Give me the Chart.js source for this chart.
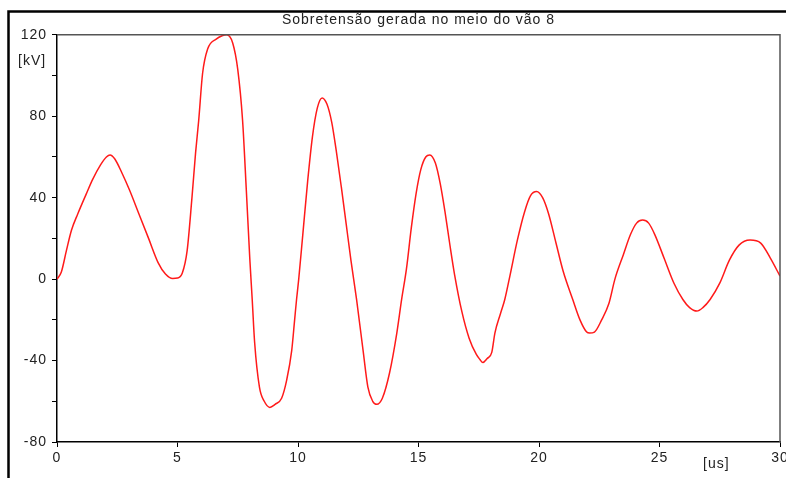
<!DOCTYPE html>
<html>
<head>
<meta charset="utf-8">
<script src="https://cdn.jsdelivr.net/npm/chart.js@4.4.1/dist/chart.umd.min.js"></script>
<style>
  html, body { margin: 0; padding: 0; background: #fff; }
  #wrap { width: 786px; height: 478px; }
</style>
</head>
<body>
<div id="wrap"><canvas id="surgeChart" width="786" height="478"></canvas></div>
<script>
// Time axis [us] and overvoltage [kV]
const timeUs = [
  0, 0.18, 0.39, 0.6, 0.86, 1.22, 1.48, 1.8, 2.05, 2.2, 2.4, 2.7, 3.0, 3.4, 3.8, 4.2, 4.5, 4.8, 5.0,
  5.2, 5.4, 5.6, 5.75, 5.88, 6.04, 6.25, 6.62, 6.85, 7.04, 7.29, 7.5, 7.7, 7.85, 8.0,
  8.1, 8.2, 8.4, 8.6, 8.83, 9.05, 9.32, 9.53, 9.74, 9.86, 9.94, 10.03,
  10.2, 10.4, 10.6, 10.8, 11.0, 11.2, 11.4, 11.6, 11.8, 12.0, 12.2, 12.43,
  12.7, 12.9, 13.1, 13.27, 13.5, 13.8, 14.1, 14.3,
  14.5, 14.7, 14.9, 15.1, 15.3, 15.47, 15.7, 15.9, 16.1, 16.3, 16.5,
  16.8, 17.1, 17.4, 17.55, 17.67, 17.85, 18.04, 18.17, 18.4, 18.58,
  18.8, 19.1, 19.4, 19.65, 19.9, 20.15, 20.4, 20.7, 21.0,
  21.4, 21.7, 21.98, 22.1, 22.3, 22.6, 22.9, 23.15,
  23.5, 23.8, 24.05, 24.3, 24.55, 24.8, 25.2, 25.6,
  25.97, 26.25, 26.55, 26.8, 27.1, 27.5,
  27.9, 28.3, 28.76, 29.2, 29.6, 30
];
const voltageKv = [
  0, 3.5, 14, 24, 32, 42, 49, 56, 60, 61, 59, 52, 44, 32, 20, 8, 2.5, 0.3, 0.5,
  3, 14, 40, 62, 78, 101, 113, 118, 119.5, 120, 116, 103, 78, 45, 10,
  -10, -31, -53, -60, -63, -61.5, -58.5, -49.6, -35, -20, -10, 0,
  22, 48, 70, 84, 89, 86, 77, 62, 45, 27, 9, -10,
  -35, -53, -60, -61.5, -58.5, -46, -26.5, -10,
  5, 25, 42, 54, 60, 61, 57, 47, 33, 17, 2,
  -16, -29, -37, -39.5, -41, -39, -36, -26.5, -17, -10,
  2, 19, 33, 41, 43, 40, 32, 18, 4,
  -10, -20, -26, -26.5, -26, -20, -12, 0,
  12, 22, 27.5, 29, 27.5, 22, 10, -2,
  -10, -14, -15.7, -14, -10, -2,
  9.3, 16.7, 19.2, 17.7, 10.3, 1.5
];

const titleText = 'Sobretensão gerada no meio do vão 8';
const yUnit = '[kV]';
const xUnit = '[us]';

const fontFamily = "'Liberation Sans', Arial, sans-serif";

// the old plotting program uses a wider bitmap font, so space letters a bit
const spacingPlugin = {
  id: 'spacing',
  beforeInit(chart) { chart.ctx.letterSpacing = '1px'; },
  beforeDraw(chart) { chart.ctx.letterSpacing = '1px'; }
};

// outer frame, plot frame (top/right) and unit labels
const framePlugin = {
  id: 'frame',
  afterDraw(chart) {
    const { ctx, chartArea: a } = chart;
    ctx.save();
    // window frame
    ctx.strokeStyle = '#000';
    ctx.lineWidth = 2.5;
    ctx.beginPath();
    ctx.moveTo(8.5, 478);
    ctx.lineTo(8.5, 11.5);
    ctx.lineTo(786, 11.5);
    ctx.stroke();
    // top and right of the plot box
    ctx.strokeStyle = '#555';
    ctx.lineWidth = 1.5;
    ctx.beginPath();
    ctx.moveTo(a.left, a.top);
    ctx.lineTo(a.right, a.top);
    ctx.lineTo(a.right, a.bottom);
    ctx.stroke();
    // units
    ctx.fillStyle = '#222';
    ctx.font = '14px ' + fontFamily;
    ctx.textBaseline = 'middle';
    ctx.textAlign = 'left';
    ctx.fillText(yUnit, 18, 61);
    ctx.fillText(xUnit, 703, 464);
    ctx.restore();
  }
};

const ctx = document.getElementById('surgeChart').getContext('2d');

const chart = new Chart(ctx, {
  type: 'line',
  data: {
    datasets: [{
      data: timeUs.map((t, i) => ({ x: t, y: voltageKv[i] })),
      borderColor: '#ff1a1a',
      borderWidth: 1.5,
      pointRadius: 0,
      fill: false,
      cubicInterpolationMode: 'monotone'
    }]
  },
  options: {
    responsive: false,
    animation: false,
    layout: { padding: { top: 0, right: 6, left: 0, bottom: 0 } },
    plugins: {
      legend: { display: false },
      tooltip: { enabled: false },
      title: {
        display: true,
        text: titleText,
        fullSize: false,
        color: '#222',
        font: { family: fontFamily, size: 14, weight: 'normal' },
        padding: { top: 12, bottom: 6 }
      }
    },
    scales: {
      x: {
        type: 'linear',
        min: 0,
        max: 30,
        ticks: {
          stepSize: 5,
          color: '#222',
          padding: 3,
          maxRotation: 0,
          font: { family: fontFamily, size: 14 }
        },
        grid: { drawOnChartArea: false, tickLength: 5, color: '#000' },
        border: { color: '#000', width: 1.5 },
        afterFit(scale) {
          scale.height = 36;
          scale.paddingLeft = 0;
          scale.paddingRight = 0;
        }
      },
      y: {
        min: -80,
        max: 120,
        ticks: {
          stepSize: 20,
          color: '#222',
          padding: 5,
          font: { family: fontFamily, size: 14 },
          callback: (v) => (v % 40 === 0 ? String(v) : '')
        },
        grid: { drawOnChartArea: false, tickLength: 5, color: '#000' },
        border: { color: '#000', width: 1.5 },
        afterFit(scale) {
          scale.width = 57;
          scale.paddingTop = 0;
          scale.paddingBottom = 0;
        }
      }
    }
  },
  plugins: [spacingPlugin, framePlugin]
});
</script>
</body>
</html>
